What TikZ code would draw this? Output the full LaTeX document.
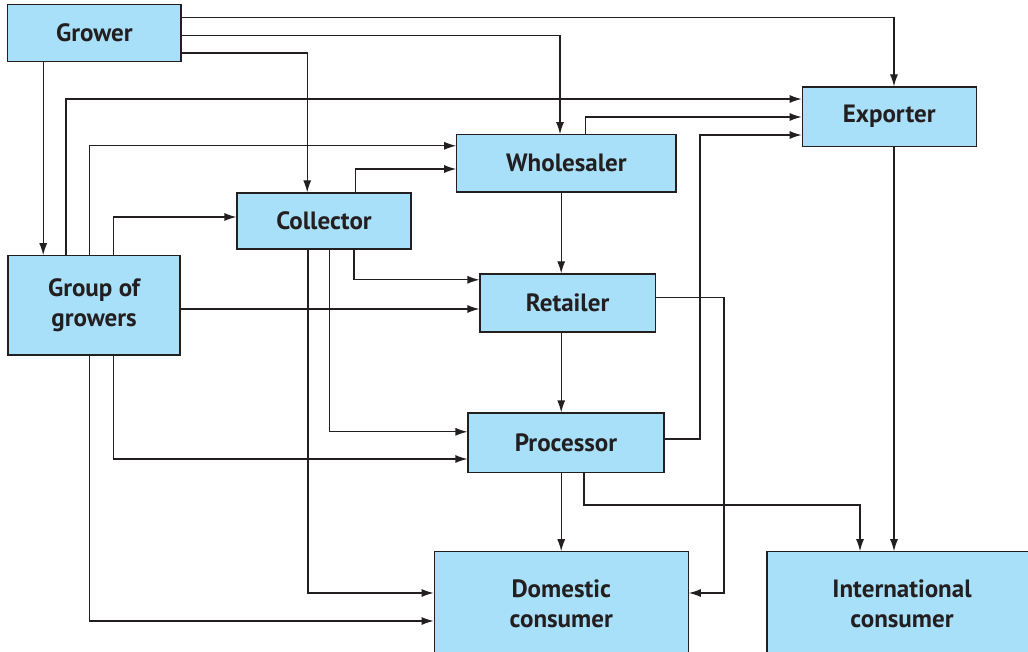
\documentclass[tikz,border=0pt]{standalone}
\usepackage{fontspec}
\setmainfont{PT Sans}
\usetikzlibrary{arrows.meta}
\definecolor{boxfill}{RGB}{169,224,249}
\definecolor{ink}{RGB}{35,31,32}
\begin{document}
\begin{tikzpicture}[font=\fontsize{17.8}{21}\selectfont\bfseries, >={Latex[length=3mm,width=2mm]},
      line width=0.85pt, draw=ink,
      box/.style={draw=ink, fill=boxfill, align=center, inner sep=2pt, text=ink},
      actor/.style={box, minimum height=1.43cm},
      cons/.style={box, minimum height=2.6cm}]
    \clip (0,0) rectangle (25.7,16.275);
    \node[actor, minimum width=4.33cm] (grower) at (2.36,15.45) {Grower};
    \node[actor, minimum width=4.35cm, minimum height=1.48cm] (exporter) at (22.23,13.36) {Exporter};
    \node[actor, minimum width=5.48cm] (wholesaler) at (14.16,12.19) {Wholesaler};
    \node[actor, minimum width=4.35cm, minimum height=1.4cm] (collector) at (8.1,10.75) {Collector};
    \node[box, minimum width=4.3cm, minimum height=2.48cm] (group) at (2.35,8.64) {Group of\\growers};
    \node[actor, minimum width=4.38cm, minimum height=1.45cm] (retailer) at (14.19,8.7) {Retailer};
    \node[actor, minimum width=4.9cm, minimum height=1.48cm] (processor) at (14.15,5.21) {Processor};
    \node[cons, minimum width=6.35cm] (domestic) at (14.03,1.18) {Domestic\\consumer};
    \node[cons, minimum width=6.75cm] (intl) at (22.55,1.18) {International\\consumer};
    % from the grower
    \draw[->] (grower.east |- 0,15.83) -| (22.35,0 |- exporter.north);
    \draw[->] (grower.east |- 0,15.38) -| (14.0,0 |- wholesaler.north);
    \draw[->] (grower.east |- 0,14.95) -| (7.68,0 |- collector.north);
    \draw[->] (1.08,0 |- grower.south) -- (1.08,0 |- group.north);
    % from the group of growers
    \draw[->] (1.65,0 |- group.north) |- (exporter.west |- 0,13.8);
    \draw[->] (2.23,0 |- group.north) |- (wholesaler.west |- 0,12.63);
    \draw[->] (2.83,0 |- group.north) |- (collector.west |- 0,10.85);
    \draw[->] (group.east |- 0,8.55) -- (retailer.west |- 0,8.55);
    \draw[->] (2.83,0 |- group.south) |- (processor.west |- 0,4.8);
    \draw[->] (2.23,0 |- group.south) |- (domestic.west |- 0,0.75);
    % from the collector
    \draw[->] (8.88,0 |- collector.north) |- (wholesaler.west |- 0,12.05);
    \draw[->] (8.85,0 |- collector.south) |- (retailer.west |- 0,9.28);
    \draw[->] (8.23,0 |- collector.south) |- (processor.west |- 0,5.48);
    \draw[->] (7.7,0 |- collector.south) |- (domestic.west |- 0,1.45);
    % wholesaler, retailer, processor
    \draw[->] (14.63,0 |- wholesaler.north) |- (exporter.west |- 0,13.35);
    \draw[->] (14.03,0 |- wholesaler.south) -- (14.03,0 |- retailer.north);
    \draw[->] (14.03,0 |- retailer.south) -- (14.03,0 |- processor.north);
    \draw[->] (retailer.east |- 0,8.83) -| (18.1,1.45) -- (domestic.east |- 0,1.45);
    \draw[->] (14.03,0 |- processor.south) -- (14.03,0 |- domestic.north);
    \draw[->] (processor.east |- 0,5.3) -| (17.5,12.9) -- (exporter.west |- 0,12.9);
    \draw[->] (14.6,0 |- processor.south) |- (21.5,3.65) -- (21.5,0 |- intl.north);
    % exporter
    \draw[->] (22.35,0 |- exporter.south) -- (22.35,0 |- intl.north);
  \end{tikzpicture}
\end{document}
